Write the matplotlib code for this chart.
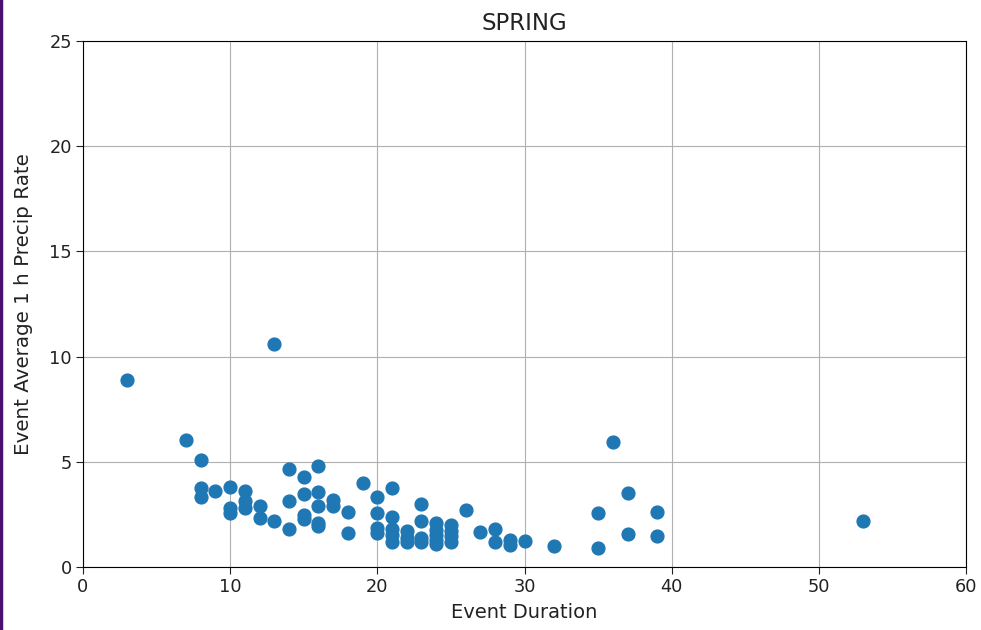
import matplotlib
matplotlib.use("Agg")
import matplotlib.pyplot as plt
from matplotlib.lines import Line2D

duration = [3, 13, 7, 8, 8, 8, 9, 10, 10, 10,
            11, 11, 11, 12, 12, 13, 14, 14, 14,
            15, 15, 15, 15, 16, 16, 16, 16, 16,
            17, 17, 18, 18, 19, 20, 20, 20, 20,
            21, 21, 21, 21, 21, 22, 22, 22,
            23, 23, 23, 23, 24, 24, 24, 24, 24,
            25, 25, 25, 25, 26, 27, 28, 28, 29, 29, 30, 32,
            35, 35, 36, 37, 37, 39, 39, 53]
rate = [8.9, 10.6, 6.05, 5.1, 3.75, 3.35, 3.6, 3.8, 2.8, 2.55,
        3.6, 3.15, 2.8, 2.9, 2.35, 2.2, 4.65, 3.15, 1.8,
        4.3, 3.45, 2.45, 2.3, 4.8, 3.55, 2.9, 2.1, 1.95,
        3.2, 2.9, 2.6, 1.6, 4.0, 3.35, 2.55, 1.85, 1.6,
        3.75, 2.4, 1.8, 1.5, 1.2, 1.7, 1.4, 1.2,
        3.0, 2.2, 1.4, 1.2, 2.1, 1.75, 1.5, 1.3, 1.1,
        2.0, 1.7, 1.45, 1.2, 2.7, 1.65, 1.8, 1.2, 1.3, 1.05, 1.25, 1.0,
        2.55, 0.9, 5.95, 3.5, 1.55, 2.6, 1.45, 2.2]

fig = plt.figure(figsize=(9.81, 6.30), dpi=100)
ax = fig.add_axes([83/981, 1 - 567/630, (966-83)/981, (567-41)/630])
ax.scatter(duration, rate, s=85, color="#1f77b4", zorder=3)
ax.set_xlim(0, 60)
ax.set_ylim(0, 25)
ax.set_xticks(range(0, 61, 10))
ax.set_yticks(range(0, 26, 5))
ax.grid(True, color="#b0b0b0", linewidth=0.8)
ax.set_axisbelow(True)
ax.tick_params(labelsize=12.8, colors="#222222", length=5, pad=3)
ax.set_title("SPRING", fontsize=16.5, color="#222222", pad=8)
ax.set_xlabel("Event Duration", fontsize=14, color="#222222", labelpad=5)
ax.set_ylabel("Event Average 1 h Precip Rate", fontsize=14.3, color="#222222", labelpad=12)
fig.add_artist(Line2D([0.001, 0.001], [0, 1], transform=fig.transFigure,
                      color="#4b0f6e", linewidth=2.5))
fig.savefig("out.png", dpi=100)
